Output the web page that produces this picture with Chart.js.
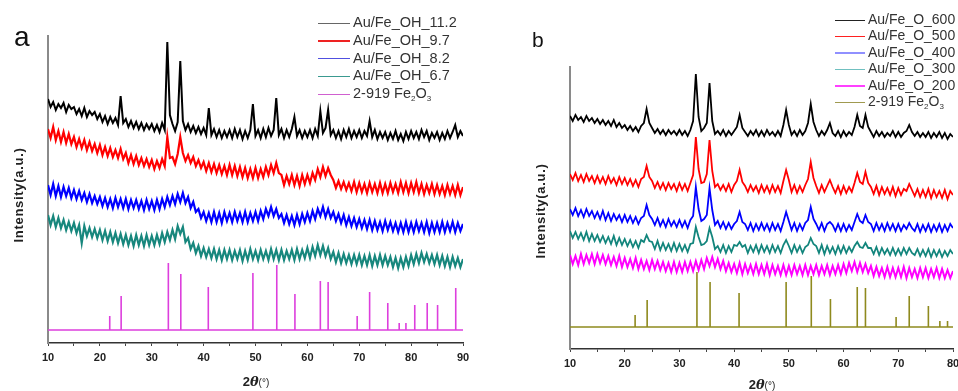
<!DOCTYPE html>
<html><head><meta charset="utf-8">
<script src="https://cdn.jsdelivr.net/npm/chart.js@4"></script>
<style>
html,body{margin:0;padding:0;background:#fff;width:958px;height:391px;overflow:hidden;font-family:"Liberation Sans",Arial,sans-serif;}
.abs{position:absolute;white-space:nowrap;}
.lg{position:absolute;font-size:14.5px;color:#333;line-height:1;}
.lg span.ln{display:inline-block;vertical-align:middle;margin-right:3px;}
.lgb{font-size:14px;}
sub{font-size:8px;vertical-align:-3px;line-height:0;}
.xt{font-size:13px;font-weight:bold;color:#222;text-align:center;}
.xt i{font-family:"DejaVu Serif",serif;font-weight:bold;}
.xt small{font-weight:normal;font-size:10px;}
.yt{font-size:13px;font-weight:bold;color:#222;letter-spacing:0.7px;transform-origin:center;transform:translate(-50%,-50%) rotate(-90deg);}
</style></head>
<body>
<div class="abs" style="left:0;top:0;width:478px;height:391px;"><canvas id="ca" width="478" height="391"></canvas></div>
<div class="abs" style="left:480px;top:0;width:490px;height:391px;"><canvas id="cb" width="490" height="391"></canvas></div>

<div class="abs" style="left:14px;top:23px;font-size:28px;line-height:1;color:#111;">a</div>
<div class="abs" style="left:532px;top:29px;font-size:21px;line-height:1;color:#111;">b</div>

<div class="abs yt" style="left:18px;top:195px;">Intensity(a.u.)</div>
<div class="abs yt" style="left:540px;top:211px;">Intensity(a.u.)</div>

<div class="abs xt" style="left:216px;top:374px;width:80px;">2<i>θ</i><small>(°)</small></div>
<div class="abs xt" style="left:722px;top:377px;width:80px;">2<i>θ</i><small>(°)</small></div>

<div id="legA"></div>
<div id="legB"></div>

<script>
// ---------- Panel a: Au/Fe_OH series (2θ grid 10..90, step 0.5) ----------
const thetaA_start = 10, thetaA_end = 90, thetaStep = 0.5;
const thetaB_start = 10, thetaB_end = 80;

const seriesA_names = ['Au/Fe_OH_11.2','Au/Fe_OH_9.7','Au/Fe_OH_8.2','Au/Fe_OH_6.7','2-919 Fe<sub>2</sub>O<sub>3</sub>'];
const seriesA_colors = ['#000000','#ff0000','#0000ff','#17877d','#dd3fdd'];
const legendA_colors = ['#666666','#ee2222','#5050e0','#3a9a90','#d060d0'];

const OH_11_2 = [
244,236,241,233,239,235,240,231,238,234,
236,229,234,227,235,226,232,228,231,224,
229,221,227,219,226,220,225,218,247,220,
224,216,222,215,221,214,220,213,219,214,
219,212,218,211,220,213,301,228,219,212,
221,282,222,213,219,211,217,210,216,209,
215,208,235,208,214,206,213,205,212,206,
213,205,214,206,213,204,212,205,213,239,
207,213,205,214,206,215,207,213,245,208,
214,205,213,206,214,226,207,213,205,212,
206,213,205,214,207,232,210,215,233,208,
213,205,212,204,213,206,214,205,212,206,
213,205,212,207,222,206,213,204,211,205,
211,203,210,204,212,203,209,202,211,204,
212,205,211,204,213,206,212,203,210,205,
211,203,210,204,212,205,211,218,206,212,
207];
const OH_9_7 = [
214,205,216,203,212,201,211,200,209,199,
206,196,204,195,203,193,201,192,199,190,
198,188,196,187,195,186,193,185,194,184,
190,180,188,179,187,178,185,177,184,176,
183,174,182,175,184,177,206,185,186,179,
189,206,190,182,188,180,186,177,183,175,
181,172,180,171,179,170,178,169,177,168,
178,168,177,167,176,166,175,165,174,165,
175,165,174,166,176,168,178,170,180,170,
168,158,167,159,168,158,167,157,168,159,
168,160,170,163,174,166,176,167,175,168,
163,155,162,154,161,153,160,152,161,151,
160,151,159,150,160,151,159,150,160,150,
159,150,160,151,159,150,161,151,160,150,
160,151,161,150,159,149,158,150,159,149,
158,149,157,148,158,149,157,148,158,148,
156];
const OH_8_2 = [
158,148,159,147,157,146,156,147,155,145,
153,144,152,143,150,141,149,140,147,139,
146,137,145,136,144,135,145,136,144,135,
144,134,143,135,143,134,142,133,143,134,
142,133,143,134,144,136,146,138,147,139,
149,141,150,140,146,135,141,131,134,125,
131,122,130,121,131,121,130,120,131,122,
130,121,131,122,130,121,131,121,130,122,
131,122,132,124,134,127,136,127,134,125,
129,120,128,119,127,118,128,119,129,121,
130,122,132,124,134,127,136,126,134,125,
131,122,129,120,128,118,126,117,125,116,
124,115,123,114,123,113,122,113,121,112,
122,113,121,112,120,111,120,111,121,111,
120,111,121,112,120,111,121,110,120,111,
120,111,121,111,120,112,121,111,120,112,
119];
const OH_6_7 = [
128,118,127,116,125,115,123,113,121,112,
120,110,118,100,117,107,115,106,114,105,
113,103,112,102,111,101,110,100,109,99,
108,98,107,97,108,98,107,97,108,98,
107,98,108,99,110,101,111,103,113,104,
117,109,116,101,105,94,100,90,97,87,
95,86,94,85,94,84,93,83,93,84,
93,83,92,84,93,82,92,83,94,84,
92,83,93,84,92,83,94,84,93,83,
93,83,92,84,93,83,94,84,93,85,
95,85,96,87,98,88,97,87,95,84,
91,81,90,80,89,80,88,79,88,79,
88,78,87,78,88,77,87,78,88,78,
87,78,86,76,85,75,85,76,86,77,
88,79,89,80,90,81,89,80,88,79,
88,78,87,77,86,76,86,77,85,76,
84];
// reference pattern 2-919 Fe2O3 (panel a)
const refA_pos  = [21.9,24.1,33.2,35.6,40.9,49.5,54.1,57.6,62.5,64.0,69.6,72.0,75.5,77.7,79.0,80.7,83.1,85.1,88.6];
const refA_top  = [27,47,80,69,56,70,78,49,62,61,27,51,40,20,20,38,40,38,55];
const refA_base = 13;

// ---------- Panel b: Au/Fe_O series (2θ grid 10..80, step 0.5) ----------
const seriesB_names = ['Au/Fe_O_600','Au/Fe_O_500','Au/Fe_O_400','Au/Fe_O_300','Au/Fe_O_200','2-919 Fe<sub>2</sub>O<sub>3</sub>'];
const seriesB_colors = ['#000000','#ff0000','#0000ff','#12857c','#ff00ff','#8f8a1e'];
const legendB_colors = ['#222222','#ff2020','#9090ff','#70c0c0','#ff40ff','#a09a50'];

const O_600 = [
233,228,234,229,232,227,233,228,231,226,
230,225,229,224,228,223,229,222,226,221,
224,219,223,218,222,217,223,226,240,226,
221,216,220,215,219,214,219,215,218,214,
219,214,218,213,219,228,275,232,218,221,
226,266,228,215,218,214,219,213,218,214,
218,222,234,221,217,213,218,214,219,213,
218,213,219,214,217,213,218,213,224,239,
224,214,218,213,219,214,218,226,245,227,
219,213,218,214,219,226,216,213,218,212,
218,213,217,214,222,234,223,221,234,222,
217,212,218,213,217,212,216,213,218,212,
217,212,216,218,224,217,213,217,212,216,
212,217,211,216,212,217,211,216,210,215,
212];
const O_500 = [
175,169,176,168,174,167,175,168,173,166,
173,166,172,165,173,166,171,164,172,165,
171,164,170,163,169,162,170,172,183,172,
168,161,167,160,166,159,166,160,165,158,
166,159,165,158,166,174,212,180,166,167,
175,209,178,162,165,159,164,158,165,157,
164,168,179,167,163,157,164,158,163,156,
164,157,163,156,164,157,163,156,168,179,
169,157,164,156,163,157,164,170,187,171,
163,156,164,157,163,169,162,156,163,155,
163,156,162,157,166,176,167,165,177,166,
162,155,163,154,162,155,161,154,162,153,
161,154,160,158,165,159,153,160,152,159,
152,160,151,159,152,158,151,159,150,158,
154];
const O_400 = [
140,134,141,133,139,132,140,133,138,131,
137,130,138,129,136,128,135,129,134,127,
134,127,133,126,132,125,131,133,144,134,
130,124,131,123,129,122,130,123,128,122,
129,122,128,121,129,133,162,140,128,130,
134,161,139,124,128,121,127,120,126,120,
125,128,137,127,125,119,126,118,125,119,
126,119,125,118,126,119,125,118,127,137,
128,119,126,118,125,119,126,129,142,130,
125,119,126,118,125,127,124,118,125,118,
125,118,124,119,127,135,128,126,134,127,
125,118,126,119,125,118,126,119,125,118,
125,118,124,120,126,121,118,125,117,124,
118,125,117,124,118,125,117,124,118,125,
121];
const O_300 = [
118,111,117,110,116,109,117,108,115,108,
114,107,113,106,112,105,113,104,111,104,
110,103,109,102,108,101,109,107,114,108,
107,100,108,99,106,99,105,98,106,98,
105,98,104,97,105,106,122,112,104,105,
108,121,112,100,103,97,104,96,103,97,
104,103,107,102,104,96,103,97,104,96,
104,97,103,96,104,97,103,96,104,109,
103,96,104,97,103,96,102,104,111,105,
103,96,104,95,103,96,102,95,103,96,
103,96,102,97,103,107,102,101,106,101,
101,95,102,94,101,95,100,94,101,94,
100,94,101,95,101,96,94,100,93,99,
93,100,92,99,93,99,92,98,93,99,
95];
const O_200 = [
94,85,93,84,95,85,94,86,95,85,
95,86,94,85,93,84,92,83,93,82,
91,82,90,81,91,80,89,80,88,79,
89,80,88,79,87,78,86,77,87,77,
86,77,87,78,87,78,88,79,89,80,
91,83,92,82,90,80,88,78,86,77,
85,76,86,75,85,76,84,75,85,75,
84,75,85,74,84,75,83,74,84,74,
83,74,84,75,83,74,84,74,83,75,
84,74,83,75,84,74,83,75,84,75,
85,76,86,78,87,77,86,77,85,76,
83,73,82,73,81,72,82,72,81,72,
81,72,82,71,81,72,80,71,81,72,
81,71,80,72,81,71,80,71,79,71,
78];
// reference pattern 2-919 Fe2O3 (panel b)
const refB_pos  = [21.9,24.1,33.2,35.6,40.9,49.5,54.1,57.6,62.5,64.0,69.6,72.0,75.5,77.6,79.0];
const refB_top  = [34,49,77,67,56,67,73,50,62,61,32,53,43,28,28];
const refB_base = 22;

const xTickLabels = ['10','20','30','40','50','60','70','80','90'];

// ---------- builders ----------
function grid(a,b,s){const g=[];for(let v=a;v<=b+1e-9;v+=s)g.push(Math.round(v*10)/10);return g;}
const thetaA = grid(thetaA_start,thetaA_end,thetaStep);
const thetaB = grid(thetaB_start,thetaB_end,thetaStep);
function pts(th,vals){return vals.map((v,i)=>({x:th[i],y:v}));}
function sticks(pos,tops,base,x0,x1){
  const p=[{x:x0,y:base}];
  pos.forEach((q,i)=>{p.push({x:q,y:base},{x:q,y:tops[i]},{x:q,y:base});});
  p.push({x:x1,y:base});return p;
}
function ds(data,color,w){return {data:data,borderColor:color,borderWidth:w,pointRadius:0,tension:0,fill:false,borderJoinStyle:'miter'};}

const FONT = '"Liberation Sans", Arial, sans-serif';
function makeChart(id,datasets,xmin,xmax,ymax,yWidth,xHeight,pad){
  return new Chart(document.getElementById(id),{
    type:'line',
    data:{datasets:datasets},
    options:{
      responsive:false,animation:false,
      layout:{padding:pad},
      plugins:{legend:{display:false},tooltip:{enabled:false}},
      scales:{
        x:{type:'linear',min:xmin,max:xmax,
          grid:{display:true,drawOnChartArea:false,drawTicks:true,tickLength:3,color:'#444',lineWidth:1},
          border:{display:true,color:'#333',width:1.5},
          ticks:{stepSize:5,autoSkip:false,maxRotation:0,padding:5,color:'#222',
            font:{family:FONT,size:11,weight:'bold'},
            callback:(v)=>{const s=String(v);return xTickLabels.includes(s)?s:'';}},
          afterFit:(s)=>{s.height=xHeight;}
        },
        y:{min:0,max:ymax,
          grid:{display:false},
          border:{display:true,color:'#8a8a8a',width:2},
          ticks:{display:false},
          afterFit:(s)=>{s.width=yWidth;}
        }
      }
    }
  });
}

makeChart('ca',[
  ds(pts(thetaA,OH_11_2),seriesA_colors[0],2),
  ds(pts(thetaA,OH_9_7),seriesA_colors[1],2.2),
  ds(pts(thetaA,OH_8_2),seriesA_colors[2],2.2),
  ds(pts(thetaA,OH_6_7),seriesA_colors[3],2.2),
  ds(sticks(refA_pos,refA_top,refA_base,thetaA_start,thetaA_end),seriesA_colors[4],1.6)
],10,90,307,48,48,{left:0,right:15,top:36,bottom:0});

makeChart('cb',[
  ds(pts(thetaB,O_600),seriesB_colors[0],1.8),
  ds(pts(thetaB,O_500),seriesB_colors[1],1.8),
  ds(pts(thetaB,O_400),seriesB_colors[2],1.8),
  ds(pts(thetaB,O_300),seriesB_colors[3],1.8),
  ds(pts(thetaB,O_200),seriesB_colors[4],2),
  ds(sticks(refB_pos,refB_top,refB_base,thetaB_start,thetaB_end),seriesB_colors[5],1.6)
],10,80,282,90,42,{left:0,right:17,top:67,bottom:0});

// ---------- HTML legends ----------
function legend(el,names,colors,x,y0,dy,len,cls,lw){
  const root=document.getElementById(el);
  names.forEach((n,i)=>{
    const d=document.createElement('div');
    d.className='lg '+cls;
    d.style.left=x+'px';d.style.top=(y0+i*dy)+'px';
    d.innerHTML='<span class="ln" style="width:'+len+'px;height:'+lw+'px;background:'+colors[i]+'"></span>'+n;
    root.appendChild(d);
  });
}
legend('legA',seriesA_names,legendA_colors,318,15,17.8,32,'',1.3);
legend('legB',seriesB_names,legendB_colors,835,12,16.4,30,'lgb',1.5);
</script>
</body></html>
